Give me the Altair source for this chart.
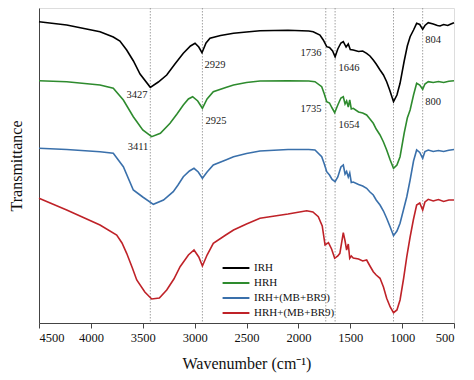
import altair as alt
import pandas as pd

# ---- data ----
series_names = ["IRH", "HRH", "IRH+(MB+BR9)", "HRH+(MB+BR9)"]
series_colors = ["#000000", "#2e8b2e", "#3a70ab", "#bf2228"]

irh_wn = [4500, 4233, 3912, 3784, 3720, 3655, 3590, 3526, 3427, 3350, 3269, 3190, 3109,
          3040, 2996, 2960, 2929, 2890, 2852, 2750, 2625, 2500, 2370, 2100, 1900, 1857, 1792,
          1760, 1727, 1700, 1670, 1646, 1620, 1590, 1567, 1540, 1519, 1500, 1471, 1420, 1380,
          1342, 1310, 1278, 1250, 1213, 1180, 1149, 1120, 1083, 1050, 1020, 980, 950, 923,
          890, 860, 830, 802, 780, 748, 700, 660, 635, 600, 560, 530, 500]
irh_v = [301.3, 298.0, 291.3, 286.0, 282.0, 273.0, 262.0, 249.0, 235.7, 241.0, 248.0, 259.0, 269.7,
         277.0, 279.7, 276.0, 270.3, 280.0, 284.7, 287.5, 289.7, 291.0, 292.3, 292.8, 292.0, 291.3, 288.0,
         283.0, 276.3, 275.5, 272.0, 266.3, 274.0, 280.0, 281.3, 276.0, 279.0, 273.5, 273.0, 271.5, 272.0,
         269.7, 267.0, 263.0, 259.0, 253.0, 248.0, 241.3, 233.0, 221.3, 228.0, 239.7, 262.0, 277.0, 286.3,
         293.0, 299.7, 298.5, 293.7, 297.5, 300.3, 299.0, 297.5, 297.0, 298.5, 297.5, 299.0, 300.3]

hrh_wn = [4500, 4233, 3912, 3784, 3687, 3591, 3500, 3414, 3330, 3237, 3170, 3109, 3060, 3019,
          2970, 2925, 2880, 2820, 2700, 2625, 2500, 2370, 2100, 1900, 1840, 1775, 1750, 1727,
          1700, 1675, 1650, 1620, 1590, 1567, 1550, 1535, 1519, 1505, 1490, 1471, 1420, 1380,
          1342, 1310, 1278, 1250, 1213, 1180, 1149, 1115, 1083, 1050, 1020, 980, 950, 923, 890,
          860, 830, 802, 780, 748, 700, 650, 600, 550, 500]
hrh_v = [242.3, 241.3, 238.0, 234.7, 223.0, 206.3, 193.0, 186.3, 189.7, 199.7, 209.0, 218.0, 224.0, 226.3,
         222.0, 214.7, 224.0, 231.3, 235.5, 238.0, 240.5, 242.0, 242.3, 242.0, 241.3, 236.3, 229.0, 221.3,
         220.0, 215.0, 210.3, 218.0, 225.0, 226.3, 219.0, 222.0, 216.0, 223.0, 214.0, 214.7, 211.0, 210.0,
         208.0, 204.0, 199.7, 194.0, 188.0, 181.0, 173.0, 163.0, 154.7, 158.0, 166.3, 190.0, 205.0, 213.0,
         228.0, 239.7, 238.0, 233.7, 239.0, 241.3, 240.5, 241.5, 240.5, 241.8, 242.3]

irhd_wn = [4500, 4233, 3912, 3784, 3687, 3591, 3500, 3398, 3300, 3206, 3160, 3109, 3050, 3006,
           2965, 2925, 2880, 2820, 2700, 2625, 2500, 2370, 2100, 1900, 1840, 1775, 1750, 1727,
           1700, 1675, 1646, 1620, 1590, 1567, 1550, 1535, 1519, 1505, 1490, 1471, 1420, 1380,
           1342, 1310, 1278, 1250, 1213, 1180, 1149, 1115, 1083, 1050, 1020, 985, 955, 923, 890,
           860, 830, 802, 780, 748, 700, 650, 600, 550, 500]
irhd_v = [174.7, 173.5, 171.3, 169.7, 156.3, 133.0, 126.0, 118.7, 123.0, 131.3, 138.0, 146.3, 152.0, 154.7,
          151.0, 144.7, 151.0, 158.0, 163.0, 166.3, 169.5, 172.0, 173.5, 173.5, 173.0, 166.3, 159.0, 151.3,
          148.0, 143.5, 141.3, 146.0, 156.0, 158.0, 149.0, 151.5, 146.0, 150.0, 140.5, 141.0, 138.5, 137.0,
          134.7, 131.0, 128.0, 123.0, 118.0, 112.0, 104.7, 96.0, 87.3, 92.0, 99.7, 114.0, 126.3, 143.0,
          162.0, 173.0, 170.5, 164.7, 171.5, 173.0, 171.5, 172.5, 171.5, 172.8, 173.5]

hrhd_wn = [4500, 4233, 3912, 3751, 3700, 3655, 3600, 3558, 3480, 3414, 3340, 3269, 3200, 3140,
           3060, 3006, 2960, 2925, 2880, 2820, 2700, 2625, 2500, 2370, 2100, 1920, 1860, 1808,
           1770, 1743, 1710, 1680, 1650, 1620, 1600, 1567, 1550, 1535, 1519, 1505, 1490, 1471,
           1420, 1380, 1342, 1310, 1278, 1250, 1213, 1180, 1149, 1115, 1083, 1050, 1020, 985,
           955, 923, 892, 860, 830, 802, 780, 748, 700, 650, 600, 550, 500]
hrhd_v = [124.7, 113.0, 98.0, 88.0, 80.0, 69.7, 55.0, 43.0, 31.0, 24.0, 25.0, 33.0, 44.0, 56.3,
          68.0, 73.0, 66.0, 57.0, 68.0, 79.7, 88.0, 93.0, 99.0, 104.7, 109.0, 112.3, 111.0, 106.3,
          97.0, 78.0, 80.3, 74.0, 64.7, 67.0, 69.7, 90.3, 82.0, 73.0, 79.0, 64.7, 67.0, 65.0,
          64.0, 62.0, 63.0, 57.0, 51.3, 48.0, 44.7, 36.0, 24.7, 16.0, 10.3, 13.0, 23.0, 45.0,
          66.3, 86.0, 103.0, 118.0, 120.0, 113.0, 121.0, 123.7, 122.0, 123.5, 121.5, 123.0, 123.0]

peak_lines = [3427, 2925, 1736, 1646, 1083, 802]

label_text = ["3427", "2929", "1736", "1646", "804", "3411", "2925", "1735", "1654", "800"]
label_wn = [3555, 2804, 1878, 1512, 702, 3546, 2794, 1878, 1512, 702]
label_v = [228, 258, 270, 255, 283, 176, 202, 214, 198, 221]

x_ticks = list(range(500, 4501, 250))

# ---- build tables ----
rows = []
for name, wn, v in zip(series_names, [irh_wn, hrh_wn, irhd_wn, hrhd_wn], [irh_v, hrh_v, irhd_v, hrhd_v]):
    for i, (a, b) in enumerate(zip(wn, v)):
        rows.append({"series": name, "wn": a, "v": b, "order": i})
spec_df = pd.DataFrame(rows)
lines_df = pd.DataFrame({"wn": peak_lines})
labels_df = pd.DataFrame({"wn": label_wn, "v": label_v, "text": label_text})

FONT = "Liberation Serif, Times New Roman, serif"

x_scale = alt.Scale(domain=[500, 4500], reverse=True, nice=False, zero=False)
y_scale = alt.Scale(domain=[0, 315], nice=False, zero=False)

x_axis = alt.Axis(
    values=x_ticks,
    labelExpr="datum.value % 500 === 0 ? datum.label : ''",
    format="d",
    tickSize={"condition": {"test": "datum.value % 500 === 0", "value": 5}, "value": 3},
    tickColor="#444", domainColor="#444", labelColor="#111",
    labelFont=FONT, labelFontSize=12.5, labelPadding=3,
    title="Wavenumber (cm⁻¹)", titleFont=FONT, titleFontSize=16,
    titleFontWeight="normal", titleColor="#111", titlePadding=12, grid=False,
)
y_axis = alt.Axis(
    labels=False, ticks=False, grid=False, domainColor="#444",
    title="Transmittance", titleFont=FONT, titleFontSize=16,
    titleFontWeight="normal", titleColor="#111", titlePadding=15,
)

rules = alt.Chart(lines_df).mark_rule(color="#8a8a8a", strokeWidth=0.8, strokeDash=[1.5, 1.5]).encode(
    x=alt.X("wn:Q", scale=x_scale, axis=x_axis)
)

spectra = alt.Chart(spec_df).mark_line(strokeWidth=1.6).encode(
    x=alt.X("wn:Q", scale=x_scale, axis=x_axis),
    y=alt.Y("v:Q", scale=y_scale, axis=y_axis),
    color=alt.Color(
        "series:N",
        scale=alt.Scale(domain=series_names, range=series_colors),
        legend=alt.Legend(
            title=None, orient="none", legendX=189, legendY=252,
            symbolType="M-2,0H2", symbolSize=180, symbolStrokeWidth=2,
            labelFont=FONT, labelFontSize=11, labelColor="#111",
            rowPadding=2, labelOffset=10,
        ),
    ),
    order="order:Q",
)

labels = alt.Chart(labels_df).mark_text(font=FONT, fontSize=10.5, color="#222").encode(
    x=alt.X("wn:Q", scale=x_scale),
    y=alt.Y("v:Q", scale=y_scale),
    text="text:N",
)

chart = alt.layer(rules, spectra, labels).properties(
    width=415, height=315,
    autosize=alt.AutoSizeParams(type="none"),
    padding={"left": 31, "top": 0, "right": 12, "bottom": 50},
).configure_view(stroke="#444", strokeWidth=1).configure(background="white")

chart.save("out.html", embed_options={"renderer": "svg", "actions": False})
